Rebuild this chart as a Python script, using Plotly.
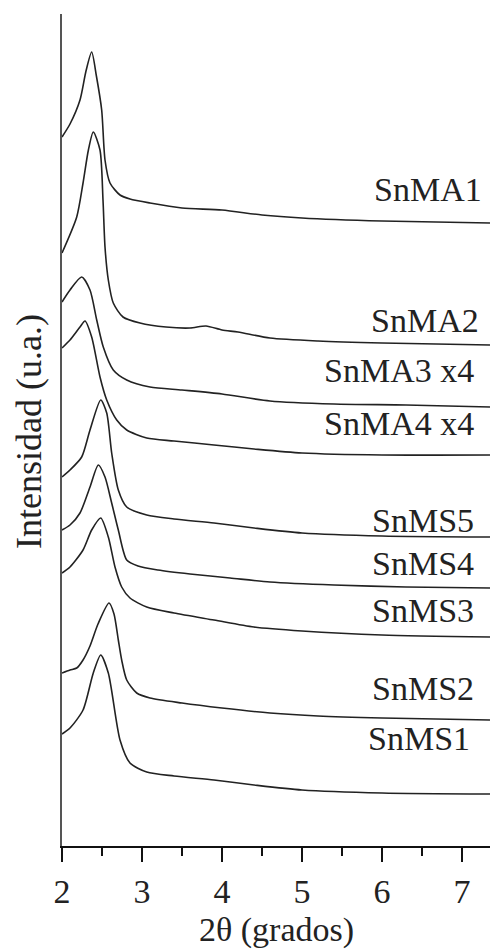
import plotly.graph_objects as go

# 2theta (degrees) and intensity (arbitrary units, already offset for stacking)
x_snma1 = [2.00, 2.10, 2.225, 2.30, 2.371, 2.43, 2.496, 2.5375, 2.60, 2.725, 2.85, 3.10, 3.50, 4.00, 4.50, 5.00, 6.00, 7.35]
y_snma1 = [709, 722, 746, 775, 794, 770, 736, 686, 663, 651, 647, 643, 638, 636, 631, 628, 625, 623]

x_snma2 = [2.00, 2.184, 2.263, 2.33, 2.391, 2.475, 2.5125, 2.5375, 2.579, 2.641, 2.7625, 2.975, 3.30, 3.60, 3.80, 4.00, 4.20, 4.60, 5.20, 6.00, 7.35]
y_snma2 = [593, 629, 663, 696, 714, 696, 646, 599, 566, 543, 529, 523, 519, 518, 520, 516, 514, 508, 505, 503, 501]

x_snma3 = [2.00, 2.10, 2.246, 2.35, 2.434, 2.516, 2.641, 2.809, 3.10, 3.50, 4.00, 4.60, 5.40, 6.30, 7.35]
y_snma3 = [544, 556, 569, 556, 526, 499, 476, 466, 459, 456, 452, 445, 442, 441, 439]

x_snma4 = [2.00, 2.10, 2.225, 2.2875, 2.371, 2.475, 2.559, 2.684, 2.809, 3.059, 3.40, 3.90, 4.40, 5.00, 6.00, 7.35]
y_snma4 = [498, 506, 519, 525, 509, 469, 446, 426, 416, 408, 405, 401, 397, 393, 391, 391]

x_snms5 = [2.00, 2.10, 2.246, 2.35, 2.484, 2.559, 2.621, 2.704, 2.809, 3.059, 3.40, 3.90, 4.40, 5.00, 6.00, 7.35]
y_snms5 = [369, 376, 389, 416, 446, 433, 393, 356, 339, 331, 327, 323, 318, 313, 310, 309]

x_snms4 = [2.00, 2.10, 2.225, 2.35, 2.454, 2.5375, 2.621, 2.704, 2.809, 2.95, 3.20, 3.60, 4.10, 4.60, 5.40, 6.30, 7.35]
y_snms4 = [316, 321, 333, 359, 381, 369, 343, 316, 286, 280, 276, 272, 268, 264, 261, 259, 258]

x_snms3 = [2.00, 2.10, 2.263, 2.371, 2.484, 2.579, 2.6625, 2.746, 2.85, 3.059, 3.40, 3.90, 4.40, 5.00, 6.00, 7.35]
y_snms3 = [273, 279, 296, 316, 328, 309, 279, 259, 248, 239, 233, 226, 219, 215, 211, 209]

x_snms2 = [2.00, 2.10, 2.184, 2.263, 2.35, 2.45, 2.5875, 2.65, 2.704, 2.746, 2.809, 2.934, 3.10, 3.50, 4.00, 4.60, 5.20, 6.00, 7.35]
y_snms2 = [173, 176, 178, 186, 200, 222, 243, 232, 206, 186, 166, 153, 148, 143, 138, 133, 130, 128, 126]

x_snms1 = [2.00, 2.10, 2.263, 2.391, 2.484, 2.579, 2.725, 2.85, 3.059, 3.40, 3.90, 4.40, 5.00, 6.00, 7.35]
y_snms1 = [112, 118, 136, 173, 191, 173, 106, 83, 74, 70, 66, 61, 56, 53, 52]

series_names = ["SnMA1", "SnMA2", "SnMA3 x4", "SnMA4 x4", "SnMS5", "SnMS4", "SnMS3", "SnMS2", "SnMS1"]
series_x = [x_snma1, x_snma2, x_snma3, x_snma4, x_snms5, x_snms4, x_snms3, x_snms2, x_snms1]
series_y = [y_snma1, y_snma2, y_snma3, y_snma4, y_snms5, y_snms4, y_snms3, y_snms2, y_snms1]

# label positions (2theta, intensity)
label_x = [7.275, 7.24, 7.18, 7.18, 7.18, 7.18, 7.18, 7.18, 7.12]
label_y = [657, 526, 476, 423, 326, 283, 236, 158, 108]

tick_vals = [2, 3, 4, 5, 6, 7]
tick_text = ["2", "3", "4", "5", "6", "7"]

FONT = "Liberation Serif, Times New Roman, serif"

fig = go.Figure()
for name, xs, ys in zip(series_names, series_x, series_y):
    fig.add_trace(go.Scatter(
        x=xs, y=ys, mode="lines", name=name,
        line=dict(color="#222222", width=1.6, shape="spline", smoothing=0.7),
        showlegend=False, hoverinfo="skip",
    ))

for name, lx, ly in zip(series_names, label_x, label_y):
    fig.add_annotation(x=lx, y=ly, xref="x", yref="y", text=name, showarrow=False,
                       xanchor="right", yanchor="middle",
                       font=dict(family=FONT, size=34, color="#222222"))

fig.add_annotation(x=0, y=0.4976, xref="paper", yref="paper", text="Intensidad (u.a.)",
                   textangle=-90, showarrow=False, xanchor="center", yanchor="middle",
                   xshift=-33, font=dict(family=FONT, size=36, color="#222222"))

fig.add_annotation(x=0.5, y=0, xref="paper", yref="paper", text="2θ (grados)",
                   showarrow=False, xanchor="center", yanchor="middle",
                   yshift=-84, font=dict(family=FONT, size=34, color="#222222"))

fig.update_layout(
    width=490, height=951,
    margin=dict(l=62, r=0, t=14, b=105),
    paper_bgcolor="white", plot_bgcolor="white",
    font=dict(family=FONT, size=34, color="#222222"),
    xaxis=dict(range=[2, 7.35], tickvals=tick_vals, ticktext=tick_text,
               ticks="outside", ticklen=14, tickwidth=2, tickcolor="#111111",
               showline=True, linecolor="#111111", linewidth=2.2,
               showgrid=False, zeroline=False,
               minor=dict(dtick=0.5, tick0=2, ticks="outside", ticklen=8, tickwidth=2, tickcolor="#111111"),
               tickfont=dict(family=FONT, size=34, color="#222222")),
    yaxis=dict(range=[0, 832], showticklabels=False, ticks="",
               showline=True, linecolor="#555555", linewidth=1.5,
               showgrid=False, zeroline=False),
)

fig.write_html("out.html")
